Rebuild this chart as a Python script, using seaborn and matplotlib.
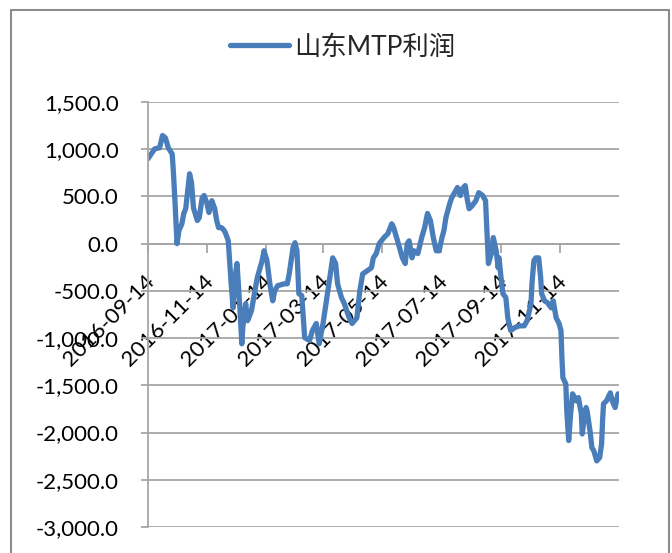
import pandas as pd
import numpy as np
import matplotlib
matplotlib.use('Agg')
import matplotlib.pyplot as plt
import matplotlib.dates as mdates
import matplotlib.transforms as mtransforms
from matplotlib.ticker import FuncFormatter
from matplotlib.patches import Rectangle
import seaborn as sns

# Data
dates = [
    '2016-09-14', '2016-09-18', '2016-09-21', '2016-09-26', '2016-09-29', '2016-10-02',
    '2016-10-05', '2016-10-09', '2016-10-10', '2016-10-12', '2016-10-14', '2016-10-16',
    '2016-10-19', '2016-10-21', '2016-10-23', '2016-10-27', '2016-10-29', '2016-10-31',
    '2016-11-04', '2016-11-06', '2016-11-09', '2016-11-11', '2016-11-14', '2016-11-16',
    '2016-11-19', '2016-11-22', '2016-11-24', '2016-11-26', '2016-11-29', '2016-12-01',
    '2016-12-03', '2016-12-06', '2016-12-09', '2016-12-11', '2016-12-13', '2016-12-15',
    '2016-12-16', '2016-12-18', '2016-12-20', '2016-12-21', '2016-12-24', '2016-12-26',
    '2016-12-30', '2017-01-02', '2017-01-05', '2017-01-10', '2017-01-12', '2017-01-15',
    '2017-01-18', '2017-01-21', '2017-01-23', '2017-01-26', '2017-02-02', '2017-02-05',
    '2017-02-07', '2017-02-11', '2017-02-13', '2017-02-15', '2017-02-17', '2017-02-20',
    '2017-02-23', '2017-02-28', '2017-03-03', '2017-03-07', '2017-03-10', '2017-03-14',
    '2017-03-18', '2017-03-21', '2017-03-24', '2017-03-27', '2017-03-29', '2017-04-02',
    '2017-04-05', '2017-04-10', '2017-04-13', '2017-04-18', '2017-04-21', '2017-04-24',
    '2017-04-29', '2017-05-03', '2017-05-05', '2017-05-08', '2017-05-11', '2017-05-16',
    '2017-05-20', '2017-05-24', '2017-05-26', '2017-05-29', '2017-06-01', '2017-06-04',
    '2017-06-07', '2017-06-09', '2017-06-11', '2017-06-14', '2017-06-16', '2017-06-20',
    '2017-06-24', '2017-06-27', '2017-06-30', '2017-07-03', '2017-07-06', '2017-07-09',
    '2017-07-12', '2017-07-15', '2017-07-17', '2017-07-19', '2017-07-23', '2017-07-25',
    '2017-07-28', '2017-07-31', '2017-08-03', '2017-08-05', '2017-08-08', '2017-08-10',
    '2017-08-12', '2017-08-15', '2017-08-19', '2017-08-22', '2017-08-26', '2017-08-29',
    '2017-08-31', '2017-09-01', '2017-09-04', '2017-09-06', '2017-09-09', '2017-09-11',
    '2017-09-12', '2017-09-14', '2017-09-16', '2017-09-19', '2017-09-21', '2017-09-24',
    '2017-09-28', '2017-10-03', '2017-10-08', '2017-10-11', '2017-10-15', '2017-10-16',
    '2017-10-18', '2017-10-20', '2017-10-23', '2017-10-25', '2017-10-26', '2017-10-29',
    '2017-11-01', '2017-11-05', '2017-11-07', '2017-11-10', '2017-11-13', '2017-11-15',
    '2017-11-16', '2017-11-17', '2017-11-20', '2017-11-21', '2017-11-23', '2017-11-25',
    '2017-11-27', '2017-12-01', '2017-12-03', '2017-12-06', '2017-12-07', '2017-12-09',
    '2017-12-11', '2017-12-12', '2017-12-15', '2017-12-17', '2017-12-19', '2017-12-22',
    '2017-12-25', '2017-12-27', '2017-12-28', '2017-12-29', '2018-01-01', '2018-01-05',
    '2018-01-07', '2018-01-10', '2018-01-12', '2018-01-13',
]
profit = [
    900, 960, 1005, 1015, 1145, 1120,
    1015, 950, 805, 425, 0, 140,
    210, 320, 370, 740, 645, 380,
    245, 275, 485, 510, 425, 330,
    455, 370, 245, 170, 170, 150,
    115, 30, -425, -680, -360, -210,
    -360, -680, -1060, -890, -635, -815,
    -710, -530, -360, -180, -75, -180,
    -425, -605, -500, -445, -425, -425,
    -320, -40, 10, -75, -530, -550,
    -995, -1025, -920, -845, -1060, -845,
    -570, -360, -150, -210, -425, -570,
    -635, -785, -845, -785, -500, -320,
    -285, -255, -150, -105, 0, 65,
    105, 210, 170, 65, -40, -150,
    -210, 0, 30, -150, -75, -105,
    65, 170, 320, 245, 65, -75,
    -75, 65, 140, 275, 425, 485,
    540, 595, 510, 580, 615, 475,
    370, 400, 455, 540, 510, 455,
    0, -210, -105, 65, -75, -255,
    -150, -360, -530, -570, -785, -920,
    -890, -870, -870, -815, -635, -425,
    -180, -150, -150, -360, -530, -605,
    -625, -680, -605, -785, -845, -920,
    -1210, -1420, -1485, -1770, -2085, -1800,
    -1590, -1665, -1630, -1800, -2015, -1845,
    -1735, -1770, -1980, -2160, -2195, -2300,
    -2265, -2120, -1875, -1695, -1665, -1580,
    -1665, -1735, -1630, -1590,
]
series_name = '山东MTP利润'
tick_dates = ['2016-09-14', '2016-11-14', '2017-01-14', '2017-03-14',
              '2017-05-14', '2017-07-14', '2017-09-14', '2017-11-14']
y_ticks = [1500, 1000, 500, 0, -500, -1000, -1500, -2000, -2500, -3000]

df = pd.DataFrame({'date': pd.to_datetime(dates), series_name: profit})

sns.set_style('white')
plt.rcParams['font.family'] = ['Lato', 'Noto Sans CJK SC', 'DejaVu Sans']

DPI = 100
fig = plt.figure(figsize=(6.72, 5.53), dpi=DPI)
ax = fig.add_axes([148 / 672, 1 - 527 / 553, (619 - 148) / 672, (527 - 102) / 553])

grid_c = '#A6A6A6'
line_c = '#4A7EBB'

sns.lineplot(data=df, x='date', y=series_name, ax=ax, color=line_c, linewidth=3.8,
             label=series_name, legend=False, solid_joinstyle='round', solid_capstyle='round')

ax.set_ylim(-3000, 1500)
ax.set_xlim(pd.Timestamp('2016-09-14'), pd.Timestamp('2018-01-14'))
ax.set_yticks(y_ticks)
ax.yaxis.set_major_formatter(FuncFormatter(lambda v, p: f'{v:,.1f}'))
ax.set_xticks(pd.to_datetime(tick_dates))
ax.xaxis.set_major_formatter(mdates.DateFormatter('%Y-%m-%d'))
ax.set_xlabel('')
ax.set_ylabel('')

ax.grid(axis='y', color=grid_c, linewidth=1.3)
ax.grid(axis='x', visible=False)
ax.set_axisbelow(True)

for s in ['top', 'right']:
    ax.spines[s].set_visible(False)
ax.spines['left'].set_color(grid_c)
ax.spines['left'].set_linewidth(1.3)
ax.spines['bottom'].set_position(('data', 0))
ax.spines['bottom'].set_color(grid_c)
ax.spines['bottom'].set_linewidth(1.3)
ax.spines['bottom'].set_zorder(0.5)

ax.tick_params(axis='y', direction='out', length=5, width=1.3, color=grid_c,
               pad=16, labelsize=16, labelcolor='black', left=True)
ax.tick_params(axis='x', direction='out', length=6.5, width=1.3, color=grid_c,
               pad=17, labelsize=16, labelcolor='black', bottom=True)
offset = mtransforms.ScaledTranslation(2 / DPI, 0, fig.dpi_scale_trans)
for lab in ax.get_xticklabels():
    lab.set_rotation(45)
    lab.set_rotation_mode('anchor')
    lab.set_ha('right')
    lab.set_va('center_baseline')
    lab.set_transform(lab.get_transform() + offset)

handles, labels = ax.get_legend_handles_labels()
fig.legend(handles, labels, loc='center', bbox_to_anchor=(0.51, 1 - 47 / 553),
           frameon=False, fontsize=19, handlelength=2.2, handletextpad=0.2)

fig.patches.append(Rectangle((11 / 672, -0.05), (669 - 11) / 672, 1.05 - 10 / 553,
                             transform=fig.transFigure, fill=False,
                             edgecolor='#8C8C8C', linewidth=1.5))

fig.savefig('out.png', dpi=DPI)
